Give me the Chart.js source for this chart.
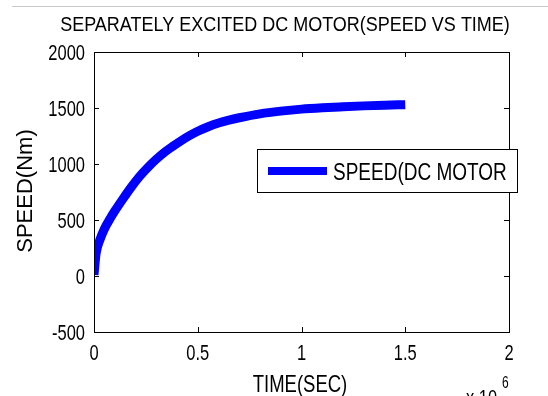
<!DOCTYPE html>
<html>
<head>
<meta charset="utf-8">
<script src="https://cdn.jsdelivr.net/npm/chart.js@4.4.1/dist/chart.umd.min.js"></script>
<style>
html,body{margin:0;padding:0;background:#fff;}
#wrap{width:548px;height:396px;position:relative;}
</style>
</head>
<body>
<div id="wrap"><canvas id="c" width="548" height="396"></canvas></div>
<script>
// Data (time in units of 1e6 s)
const timeValues  = [0, 0.01, 0.03, 0.05, 0.08, 0.1, 0.14, 0.18, 0.22, 0.26, 0.3, 0.34, 0.38, 0.42, 0.46, 0.5, 0.55, 0.6, 0.65, 0.7, 0.8, 0.9, 1.0, 1.1, 1.2, 1.3, 1.4, 1.5];
const speedValues = [10, 200, 330, 420, 520, 580, 690, 795, 890, 970, 1042, 1105, 1158, 1208, 1253, 1292, 1333, 1366, 1392, 1413, 1448, 1472, 1490, 1502, 1511, 1519, 1525, 1530];
const xTickLabels = ['0', '0.5', '1', '1.5', '2'];
const yTickLabels = ['-500', '0', '500', '1000', '1500', '2000'];
const seriesName = 'SPEED(DC MOTOR';
const titleText = 'SEPARATELY EXCITED DC MOTOR(SPEED VS TIME)';
const xTitle = 'TIME(SEC)';
const yTitle = 'SPEED(Nm)';
const xExponent = '6';

const FONT = '"Liberation Sans", Arial, sans-serif';

const points = timeValues.map((t, i) => ({x: t, y: speedValues[i]}));

function txt(ctx, s, x, y, size, sy, align) {
  ctx.save();
  ctx.translate(x, y);
  ctx.scale(1, sy);
  ctx.font = size + 'px ' + FONT;
  ctx.textAlign = align || 'left';
  ctx.textBaseline = 'alphabetic';
  ctx.fillStyle = '#000';
  ctx.fillText(s, 0, 0);
  ctx.restore();
}

const decor = {
  id: 'decor',
  beforeDraw(chart) {
    const ctx = chart.ctx;
    ctx.save();
    ctx.fillStyle = '#fff';
    ctx.fillRect(0, 0, chart.width, chart.height);
    ctx.strokeStyle = '#c8c8c8';
    ctx.lineWidth = 1;
    ctx.beginPath();
    ctx.moveTo(12, 6.5);
    ctx.lineTo(chart.width, 6.5);
    ctx.stroke();
    ctx.restore();
  },
  afterDraw(chart) {
    const ctx = chart.ctx;
    const a = chart.chartArea;
    const xs = chart.scales.x, ys = chart.scales.y;
    ctx.save();
    ctx.strokeStyle = '#000';
    ctx.lineWidth = 1;
    ctx.strokeRect(Math.round(a.left) + 0.5, Math.round(a.top) + 0.5, Math.round(a.right - a.left), Math.round(a.bottom - a.top));
    const tl = 5;
    ctx.beginPath();
    xs.ticks.forEach(t => {
      const px = Math.round(xs.getPixelForValue(t.value)) + 0.5;
      ctx.moveTo(px, a.bottom); ctx.lineTo(px, a.bottom - tl);
      ctx.moveTo(px, a.top); ctx.lineTo(px, a.top + tl);
    });
    ys.ticks.forEach(t => {
      const py = Math.round(ys.getPixelForValue(t.value)) + 0.5;
      ctx.moveTo(a.left, py); ctx.lineTo(a.left + tl, py);
      ctx.moveTo(a.right, py); ctx.lineTo(a.right - tl, py);
    });
    ctx.stroke();
    ctx.restore();

    // tick labels
    xs.ticks.forEach((t, i) => {
      txt(ctx, xTickLabels[i], xs.getPixelForValue(t.value), 360, 16.5, 1.33, 'center');
    });
    ys.ticks.forEach((t, i) => {
      txt(ctx, yTickLabels[i], a.left - 9, ys.getPixelForValue(t.value) + 8, 16.5, 1.33, 'right');
    });

    // titles
    txt(ctx, titleText, 285, 31, 18, 1.17, 'center');
    txt(ctx, xTitle, 300, 392, 18.5, 1.3, 'center');
    txt(ctx, 'x 10', 466, 405, 16.5, 1.33, 'left');
    txt(ctx, xExponent, 502, 388, 12, 1.3, 'left');
    ctx.save();
    ctx.translate(32, 191);
    ctx.rotate(-Math.PI / 2);
    ctx.font = '22px ' + FONT;
    ctx.textAlign = 'center';
    ctx.fillStyle = '#000';
    ctx.fillText(yTitle, 0, 0);
    ctx.restore();

    // legend
    ctx.save();
    const lx = 257.5, ly = 149.5, lw = 260, lh = 43;
    ctx.fillStyle = '#fff';
    ctx.fillRect(lx, ly, lw, lh);
    ctx.strokeStyle = '#000';
    ctx.lineWidth = 1;
    ctx.strokeRect(lx, ly, lw, lh);
    const ds = chart.data.datasets[0];
    ctx.strokeStyle = ds.borderColor;
    ctx.lineWidth = 8;
    ctx.beginPath();
    ctx.moveTo(268, 171);
    ctx.lineTo(327, 171);
    ctx.stroke();
    ctx.restore();
    txt(ctx, ds.label, 333, 180, 19, 1.22, 'left');
  }
};

new Chart(document.getElementById('c'), {
  type: 'line',
  data: {
    datasets: [{
      label: seriesName,
      data: points,
      borderColor: '#0000ff',
      backgroundColor: '#0000ff',
      borderWidth: 9,
      pointRadius: 0,
      cubicInterpolationMode: 'monotone',
      borderCapStyle: 'butt',
      borderJoinStyle: 'round',
      clip: 0
    }]
  },
  options: {
    responsive: false,
    animation: false,
    devicePixelRatio: 1,
    layout: {padding: {left: 0, right: 39, top: 52, bottom: 0}},
    plugins: {legend: {display: false}, title: {display: false}, tooltip: {enabled: false}},
    scales: {
      x: {
        type: 'linear', min: 0, max: 2,
        grid: {display: false, drawTicks: false},
        border: {display: false},
        ticks: {stepSize: 0.5, display: false},
        afterFit: s => { s.height = 64; }
      },
      y: {
        type: 'linear', min: -500, max: 2000,
        grid: {display: false, drawTicks: false},
        border: {display: false},
        ticks: {stepSize: 500, display: false},
        afterFit: s => { s.width = 94; }
      }
    }
  },
  plugins: [decor]
});
</script>
</body>
</html>
